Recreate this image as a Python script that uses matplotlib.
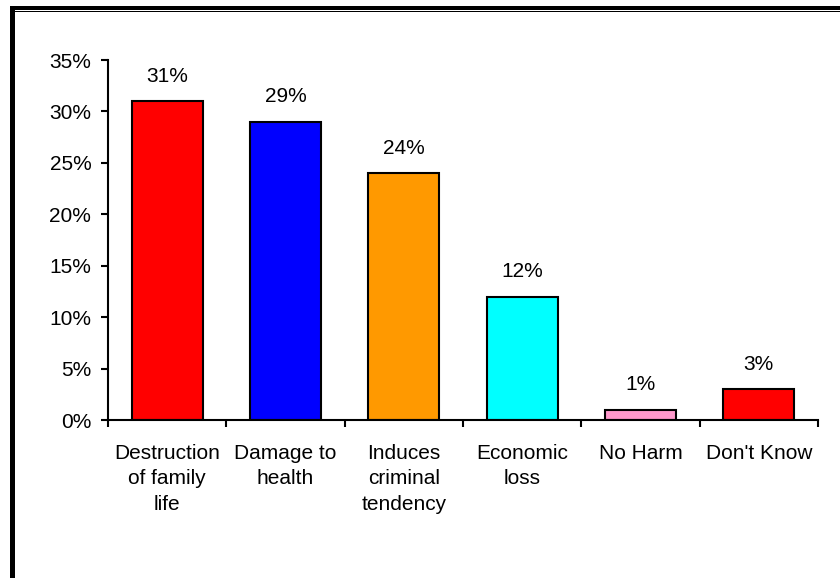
import matplotlib.pyplot as plt
from matplotlib.patches import Rectangle
import numpy as np

plt.rcParams['font.family'] = ['Liberation Sans', 'DejaVu Sans']

categories = ["Destruction\nof family\nlife", "Damage to\nhealth", "Induces\ncriminal\ntendency",
              "Economic\nloss", "No Harm", "Don't Know"]
values = [31, 29, 24, 12, 1, 3]
colors = ['#FF0000', '#0000FF', '#FF9900', '#00FFFF', '#FF99CC', '#FF0000']

W, H = 840, 578
fig = plt.figure(figsize=(W / 100, H / 100), dpi=100)
ax = fig.add_axes([108 / W, 1 - 420 / H, (818 - 108) / W, (420 - 60) / H])

x = np.arange(len(values))
bars = ax.bar(x, values, width=0.6, color=colors, edgecolor='black', linewidth=1.5)
for b, v in zip(bars, values):
    ax.annotate(f"{v}%", (b.get_x() + b.get_width() / 2, v), xytext=(0, 11),
                textcoords='offset points', ha='center', va='bottom', fontsize=15)

ax.set_xlim(-0.5, len(values) - 0.5)
ax.set_ylim(0, 35)
ax.set_yticks(range(0, 36, 5))
ax.set_yticklabels([f"{t}%" for t in range(0, 36, 5)])
ax.set_xticks(x)
ax.set_xticklabels(categories, fontsize=15, linespacing=1.44, va='top')
ax.set_xticks(np.arange(-0.5, len(values), 1), minor=True)
ax.tick_params(axis='x', which='major', length=0, pad=17)
ax.tick_params(axis='x', which='minor', length=5, width=1.5, direction='out')
ax.tick_params(axis='y', length=5, width=1.5, direction='out', labelsize=15, pad=7)

for s in ['top', 'right']:
    ax.spines[s].set_visible(False)
for s in ['left', 'bottom']:
    ax.spines[s].set_linewidth(1.5)

# outer frame (shadowed border)
def px_rect(x0, y0, w, h):
    fig.add_artist(Rectangle((x0 / W, 1 - (y0 + h) / H), w / W, h / H,
                             transform=fig.transFigure, color='black', lw=0))

px_rect(10, 6, 830, 3.5)
px_rect(10, 6, 4.5, 572)
px_rect(14, 10.5, 826, 1.5)

fig.savefig('out.png', dpi=100)
